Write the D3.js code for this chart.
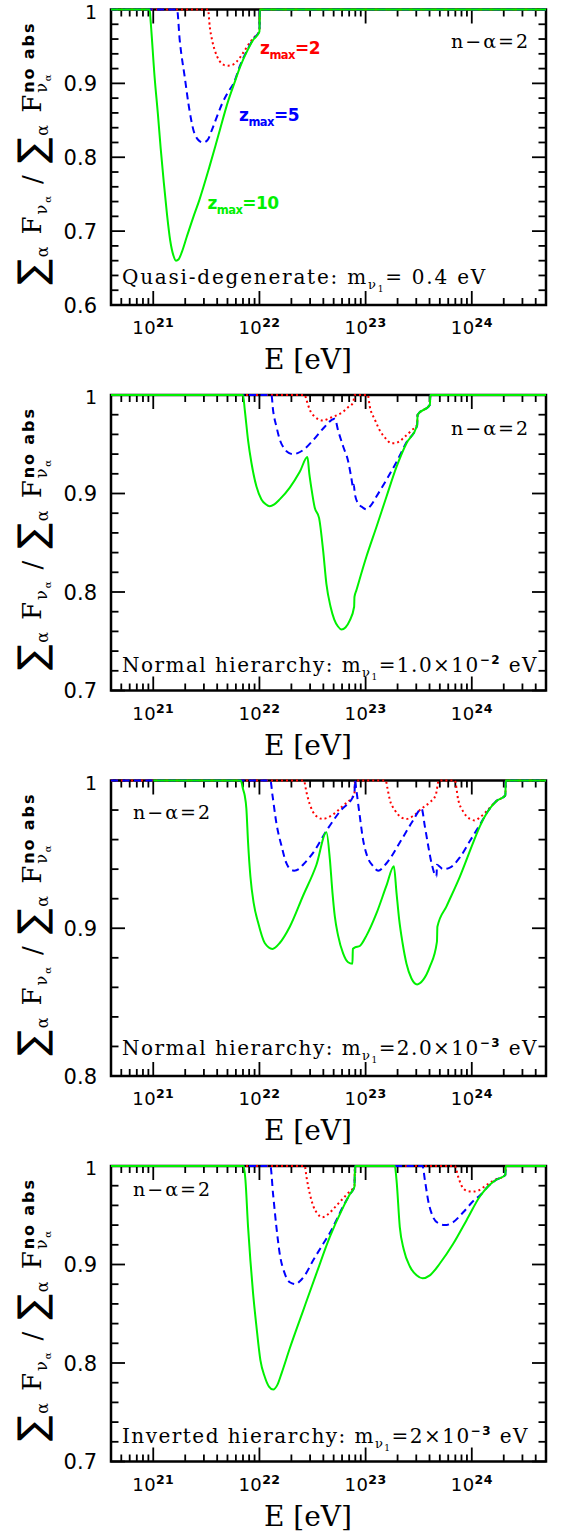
<!DOCTYPE html>
<html><head><meta charset="utf-8">
<script src="https://cdn.jsdelivr.net/npm/d3@7"></script>
<style>html,body{margin:0;padding:0;background:#fff;} svg{display:block;}</style>
</head><body>
<svg id="c" width="563" height="1539"></svg>
<script>
// ---------- data (x = log10 E[eV], y = flux ratio) ----------
const xDomain = [4e20, 5e24];
const xMajorExponents = [21, 22, 23, 24];
const yMins = [0.6, 0.7, 0.8, 0.7];

const quasiZ2 = [[20.602,1],[21.516,1],[21.532,0.977],[21.555,0.958],[21.579,0.945],[21.626,0.930],[21.665,0.925],[21.704,0.924],[21.745,0.925],[21.783,0.929],[21.845,0.941],[21.909,0.955],[21.955,0.963],[22.0,0.971],[22.004,1],[24.699,1]];
const quasiZ5 = [[20.602,1],[21.224,1],[21.249,0.959],[21.296,0.909],[21.343,0.862],[21.38,0.836],[21.42,0.824],[21.468,0.820],[21.51,0.823],[21.55,0.836],[21.6,0.855],[21.65,0.873],[21.7,0.887],[21.763,0.902],[21.817,0.924],[21.892,0.947],[21.942,0.960],[22.0,0.971],[22.004,1],[24.699,1]];
const quasiZ10 = [[20.602,1],[20.966,1],[20.975,0.985],[21.013,0.908],[21.044,0.858],[21.07,0.812],[21.1,0.765],[21.13,0.722],[21.16,0.687],[21.19,0.667],[21.214,0.660],[21.24,0.662],[21.27,0.672],[21.315,0.692],[21.375,0.718],[21.434,0.742],[21.529,0.787],[21.614,0.830],[21.705,0.876],[21.763,0.9],[21.817,0.922],[21.892,0.946],[21.942,0.959],[22.0,0.970],[22.004,1],[24.699,1]];

const normal1Z2 = [[20.602,1],[22.427,1],[22.443,0.995],[22.474,0.985],[22.521,0.978],[22.56,0.975],[22.6,0.974],[22.65,0.976],[22.694,0.978],[22.74,0.980],[22.788,0.983],[22.84,0.988],[22.882,0.992],[22.898,1],[23.02,1],[23.04,0.988],[23.087,0.975],[23.134,0.964],[23.197,0.955],[23.24,0.951],[23.275,0.951],[23.32,0.953],[23.353,0.956],[23.432,0.964],[23.485,0.970],[23.49,0.98],[23.605,0.99],[23.61,1],[24.699,1]];
const normal1Z5 = [[20.602,1],[22.113,1],[22.128,0.985],[22.16,0.968],[22.191,0.955],[22.238,0.945],[22.28,0.941],[22.317,0.940],[22.36,0.941],[22.411,0.944],[22.505,0.954],[22.6,0.966],[22.71,0.976],[22.741,0.964],[22.788,0.948],[22.835,0.933],[22.867,0.915],[22.882,0.906],[22.889,0.909],[22.898,0.900],[22.929,0.890],[22.97,0.886],[23.008,0.884],[23.05,0.888],[23.102,0.897],[23.197,0.914],[23.291,0.932],[23.385,0.952],[23.485,0.969],[23.49,0.98],[23.605,0.99],[23.61,1],[24.699,1]];
const normal1Z10 = [[20.602,1],[21.845,1],[21.862,0.985],[21.893,0.954],[21.925,0.931],[21.972,0.907],[22.019,0.894],[22.06,0.889],[22.097,0.887],[22.14,0.889],[22.191,0.894],[22.286,0.906],[22.38,0.922],[22.452,0.937],[22.47,0.92],[22.49,0.905],[22.52,0.886],[22.562,0.875],[22.6,0.842],[22.631,0.808],[22.67,0.785],[22.705,0.772],[22.74,0.765],[22.773,0.762],[22.81,0.764],[22.85,0.771],[22.892,0.785],[22.895,0.795],[22.914,0.802],[23.008,0.836],[23.102,0.866],[23.197,0.897],[23.291,0.927],[23.385,0.951],[23.485,0.969],[23.49,0.98],[23.605,0.99],[23.61,1],[24.699,1]];

const normal2Z2 = [[20.602,1],[22.418,1],[22.443,0.992],[22.474,0.984],[22.521,0.977],[22.594,0.974],[22.694,0.977],[22.788,0.983],[22.867,0.988],[22.895,0.991],[22.9,1],[23.19,1],[23.205,0.995],[23.228,0.987],[23.275,0.980],[23.338,0.975],[23.385,0.974],[23.448,0.976],[23.527,0.981],[23.6,0.985],[23.66,0.99],[23.69,1],[23.84,1],[23.872,0.987],[23.919,0.979],[23.982,0.974],[24.03,0.973],[24.076,0.975],[24.15,0.980],[24.23,0.986],[24.316,0.990],[24.32,1],[24.699,1]];
const normal2Z5 = [[20.602,1],[22.103,1],[22.123,0.990],[22.16,0.971],[22.207,0.956],[22.254,0.944],[22.29,0.940],[22.326,0.939],[22.37,0.940],[22.411,0.943],[22.505,0.951],[22.631,0.966],[22.757,0.979],[22.895,0.991],[22.9,1],[22.91,0.995],[22.945,0.976],[22.976,0.960],[23.014,0.949],[23.071,0.942],[23.118,0.939],[23.197,0.944],[23.322,0.958],[23.448,0.973],[23.527,0.981],[23.558,0.969],[23.589,0.956],[23.621,0.944],[23.668,0.935],[23.672,0.943],[23.73,0.940],[23.794,0.941],[23.888,0.948],[23.982,0.959],[24.076,0.970],[24.15,0.979],[24.23,0.986],[24.316,0.990],[24.32,1],[24.699,1]];
const normal2Z10 = [[21.0,1],[21.824,1],[21.846,0.994],[21.861,0.990],[21.877,0.981],[21.893,0.958],[21.915,0.935],[21.946,0.917],[21.987,0.904],[22.05,0.890],[22.123,0.886],[22.191,0.890],[22.286,0.901],[22.411,0.922],[22.537,0.943],[22.631,0.965],[22.663,0.947],[22.688,0.924],[22.71,0.908],[22.741,0.895],[22.788,0.883],[22.835,0.877],[22.876,0.876],[22.88,0.886],[22.9,0.887],[22.945,0.888],[23.008,0.895],[23.102,0.910],[23.197,0.929],[23.266,0.942],[23.291,0.924],[23.316,0.906],[23.348,0.890],[23.385,0.876],[23.432,0.866],[23.485,0.862],[23.542,0.865],[23.605,0.874],[23.672,0.891],[23.676,0.901],[23.763,0.915],[23.888,0.935],[24.013,0.958],[24.076,0.969],[24.15,0.979],[24.23,0.986],[24.316,0.990],[24.32,1],[24.699,1]];

const invertedZ2 = [[20.602,1],[22.427,1],[22.443,0.989],[22.474,0.972],[22.505,0.960],[22.543,0.952],[22.594,0.948],[22.647,0.951],[22.71,0.958],[22.77,0.965],[22.83,0.972],[22.895,0.980],[22.9,1],[23.84,1],[23.872,0.989],[23.904,0.980],[23.951,0.975],[24.013,0.974],[24.06,0.975],[24.13,0.980],[24.2,0.985],[24.316,0.991],[24.32,1],[24.699,1]];
const invertedZ5 = [[20.602,1],[22.103,1],[22.128,0.972],[22.16,0.938],[22.191,0.911],[22.238,0.891],[22.286,0.882],[22.342,0.880],[22.38,0.883],[22.427,0.889],[22.505,0.904],[22.6,0.921],[22.663,0.932],[22.72,0.944],[22.788,0.959],[22.85,0.971],[22.895,0.979],[22.9,1],[23.536,1],[23.558,0.986],[23.589,0.965],[23.636,0.948],[23.683,0.942],[23.746,0.940],[23.825,0.943],[23.919,0.953],[24.029,0.966],[24.076,0.970],[24.15,0.979],[24.23,0.986],[24.316,0.991],[24.32,1],[24.699,1]];
const invertedZ10 = [[20.602,1],[21.852,1],[21.868,0.986],[21.893,0.938],[21.915,0.904],[21.94,0.871],[21.972,0.837],[22.009,0.803],[22.05,0.786],[22.09,0.776],[22.13,0.773],[22.17,0.778],[22.21,0.790],[22.286,0.815],[22.411,0.853],[22.537,0.891],[22.663,0.928],[22.788,0.958],[22.85,0.971],[22.895,0.979],[22.9,1],[23.275,1],[23.291,0.986],[23.322,0.938],[23.36,0.915],[23.417,0.898],[23.48,0.889],[23.536,0.886],[23.605,0.889],[23.699,0.901],[23.825,0.921],[23.951,0.945],[24.076,0.969],[24.15,0.979],[24.23,0.986],[24.316,0.991],[24.32,1],[24.699,1]];

const seriesColors = ["#ff0000", "#0000ff", "#00f000"];
const seriesDash = ["2,3", "7,4.5", null];
const zmaxLabels = ["2", "5", "10"];
const panelSeries = [
  [quasiZ2, quasiZ5, quasiZ10],
  [normal1Z2, normal1Z5, normal1Z10],
  [normal2Z2, normal2Z5, normal2Z10],
  [invertedZ2, invertedZ5, invertedZ10]
];
const hierarchyText = ["Quasi-degenerate: m", "Normal hierarchy: m", "Normal hierarchy: m", "Inverted hierarchy: m"];
const massMantissa = ["= 0.4 eV", "=1.0×10", "=2.0×10", "=2×10"];
const massExponent = [null, "−2", "−3", "−3"];
const nAlphaText = "n−α=2";

// ---------- layout ----------
const svg = d3.select("#c");
const xLeft = 111, xRight = 546, panelH = 295.5;
const panelTop = [9.5, 395, 780.5, 1166];
const x = d3.scaleLog().domain(xDomain).range([xLeft, xRight]);

function rich(parent, runs, o) {
  const g = parent.append("g");
  const inner = g.append("g");
  const els = runs.map(r => inner.append("text").text(r.t)
    .attr("xml:space", "preserve").style("white-space", "pre")
    .attr("y", r.dy || 0)
    .attr("font-size", r.size || o.size)
    .attr("font-family", r.family || o.family)
    .attr("font-weight", r.weight || o.weight || "normal")
    .attr("fill", r.fill || o.fill || "#000"));
  function place(ls) {
    let xc = 0; const starts = [];
    els.forEach((e, i) => {
      const r = runs[i];
      e.attr("letter-spacing", ls);
      const w = e.node().getComputedTextLength();
      const sx = (r.stackFrom != null) ? starts[r.stackFrom] : xc;
      starts.push(sx);
      e.attr("x", sx);
      xc = Math.max(xc, sx + w);
    });
    return xc;
  }
  let wTot = place(0);
  if (o.width) {
    const n = runs.reduce((s, r) => s + Array.from(r.t).length, 0);
    wTot = place((o.width - wTot) / n);
  }
  const off = o.anchor === "middle" ? -wTot / 2 : o.anchor === "end" ? -wTot : 0;
  inner.attr("transform", `translate(${off},0)`);
  g.attr("transform", `translate(${o.x},${o.y})` + (o.rotate ? ` rotate(${o.rotate})` : ""));
  return g;
}

const minorX = [];
for (let e = 20; e <= 24; e++) for (let m = 2; m <= 9; m++) {
  const v = m * Math.pow(10, e);
  if (v >= xDomain[0] && v <= xDomain[1]) minorX.push(v);
}

panelSeries.forEach((series, p) => {
  const top = panelTop[p], bot = top + panelH;
  const y = d3.scaleLinear().domain([yMins[p], 1]).range([bot, top]);
  const g = svg.append("g");

  // ticks
  const tk = g.append("g").attr("stroke", "#000").attr("stroke-width", 1.8);
  xMajorExponents.forEach(e => {
    const xx = x(Math.pow(10, e));
    tk.append("line").attr("x1", xx).attr("x2", xx).attr("y1", bot).attr("y2", bot - 14);
    tk.append("line").attr("x1", xx).attr("x2", xx).attr("y1", top).attr("y2", top + 14);
  });
  minorX.forEach(v => {
    const xx = x(v);
    tk.append("line").attr("x1", xx).attr("x2", xx).attr("y1", bot).attr("y2", bot - 7);
    tk.append("line").attr("x1", xx).attr("x2", xx).attr("y1", top).attr("y2", top + 7);
  });
  for (let k = Math.round(yMins[p] * 50); k <= 50; k++) {
    const v = k / 50, yy = y(v), major = k % 5 === 0;
    const L = major ? 14 : 7.5;
    tk.append("line").attr("x1", xLeft).attr("x2", xLeft + L).attr("y1", yy).attr("y2", yy);
    tk.append("line").attr("x1", xRight).attr("x2", xRight - L).attr("y1", yy).attr("y2", yy);
    if (major) {
      const isTop = k === 50;
      g.append("text").attr("x", 97).attr("y", yy + (isTop ? 9 : 7.5)).attr("text-anchor", "end")
        .attr("font-family", "DejaVu Sans").attr("font-size", isTop ? 19 : 21)
        .text(isTop ? "1" : v.toFixed(1));
    }
  }
  g.append("rect").attr("x", xLeft).attr("y", top).attr("width", xRight - xLeft).attr("height", panelH)
    .attr("fill", "none").attr("stroke", "#000").attr("stroke-width", 2.5);

  // curves
  const line = d3.line().x(d => x(Math.pow(10, d[0]))).y(d => y(d[1])).curve(d3.curveMonotoneX);
  series.forEach((s, i) => {
    const path = g.append("path").datum(s).attr("d", line).attr("fill", "none")
      .attr("stroke", seriesColors[i]).attr("stroke-width", 2);
    if (seriesDash[i]) path.attr("stroke-dasharray", seriesDash[i]);
  });

  // x tick labels
  xMajorExponents.forEach(e => {
    rich(g, [{t: "10", size: 18}, {t: String(e), size: 12.5, weight: "bold", dy: -7}],
      {family: "DejaVu Sans", x: x(Math.pow(10, e)), y: bot + 29, anchor: "middle", width: 42});
  });
  // x axis title
  rich(g, [{t: "E [eV]"}], {family: "DejaVu Serif", size: 28, x: 308, y: bot + 64, anchor: "middle", width: 88});

  // y axis title
  rich(g, [
    {t: "∑", size: 38, family: "DejaVu Sans", dy: 4},
    {t: "α", size: 16, dy: 7},
    {t: " F", size: 26},
    {t: "ν", size: 16, dy: 6},
    {t: "α", size: 10, dy: 10},
    {t: " / ", size: 26},
    {t: "∑", size: 38, family: "DejaVu Sans", dy: 4},
    {t: "α", size: 16, dy: 7},
    {t: " F", size: 26},
    {t: "ν", size: 16, dy: 6},
    {t: "α", size: 10, dy: 10},
    {t: "no abs", size: 16, dy: -7, family: "DejaVu Sans", weight: "bold", stackFrom: 9}
  ], {family: "DejaVu Serif", size: 26, x: 41, y: top + panelH / 2 - 4, anchor: "middle", rotate: -90, width: 267});

  // n-alpha label
  const nX = p < 2 ? 451 : 133;
  const nY = [38, 39.5, 38, 30][p];
  rich(g, [{t: nAlphaText}], {family: "DejaVu Serif", size: 19, x: nX, y: top + nY, width: 79});

  // mass label
  const runs = [{t: hierarchyText[p]}, {t: "ν", size: 13, dy: 5}, {t: "1", size: 9, dy: 8}, {t: massMantissa[p]}];
  if (massExponent[p]) { runs.push({t: massExponent[p], size: 12, weight: "bold", family: "DejaVu Sans", dy: -8}); runs.push({t: " eV"}); }
  const mWidth = [365, 416, 416, 407][p];
  const mBase = [274, 276.5, 274, 276.7][p];
  rich(g, runs, {family: "DejaVu Serif", size: 20, x: 122, y: top + mBase, width: mWidth});

  // zmax labels (panel 1 only)
  if (p === 0) {
    const zPos = [[260, 54.3, 60], [239, 120.7, 60], [207.5, 209.3, 71]];
    zmaxLabels.forEach((z, i) => {
      rich(g, [{t: "z", size: 17}, {t: "max", size: 11.5, dy: 5}, {t: "=" + z, size: 17}],
        {family: "DejaVu Sans", weight: "bold", fill: seriesColors[i], x: zPos[i][0], y: zPos[i][1], width: zPos[i][2]});
    });
  }
});
</script>
</body></html>
